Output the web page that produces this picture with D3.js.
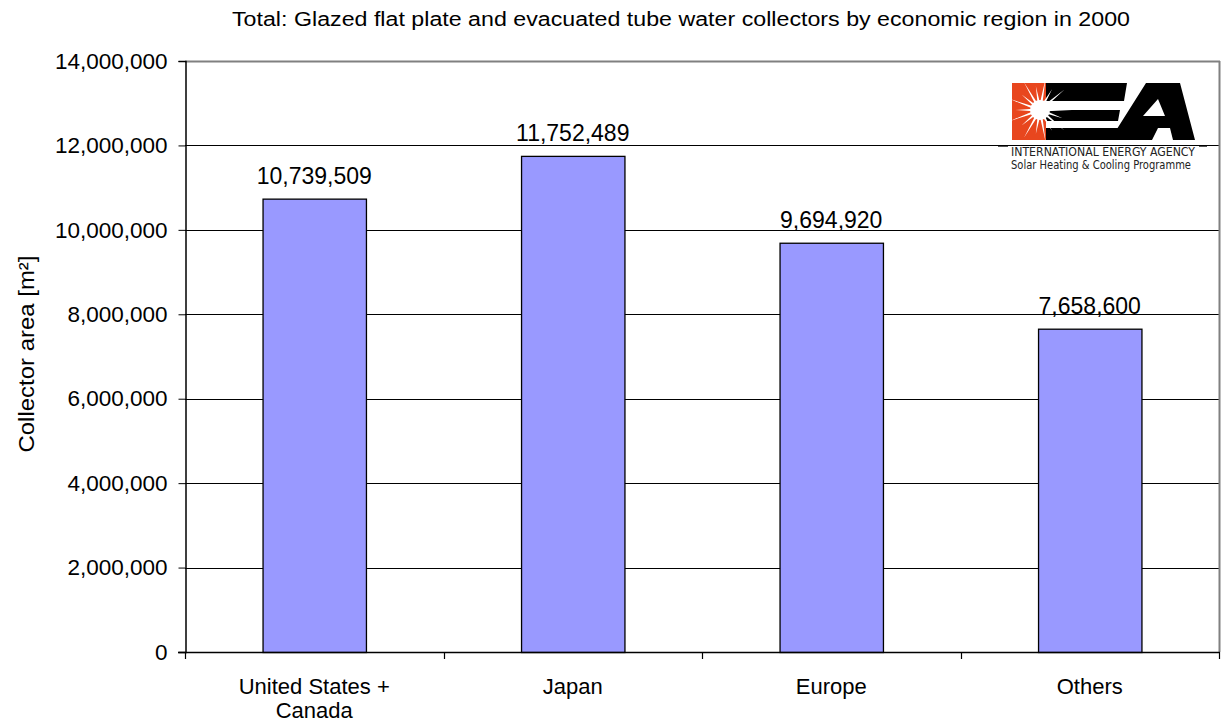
<!DOCTYPE html>
<html><head><meta charset="utf-8">
<script src="https://cdn.jsdelivr.net/npm/d3@7"></script>
<style>body{margin:0;background:#fff}svg{display:block;font-family:"Liberation Sans",Arial,sans-serif}</style>
</head><body><svg id="c" width="1221" height="727"></svg>
<script>
const categories = [["United States +","Canada"],["Japan"],["Europe"],["Others"]];
const values = [10739509, 11752489, 9694920, 7658600];
const yTicks = [0,2000000,4000000,6000000,8000000,10000000,12000000,14000000];
const title = "Total: Glazed flat plate and evacuated tube water collectors by economic region in 2000";
const yLabel = "Collector area [m²]";

const svg = d3.select("#c");
const L=185, R=1219, T=61, B=652;
const keys = categories.map(c=>c.join(" "));
const x = d3.scaleBand().domain(keys).range([L,R]).paddingInner(0.6).paddingOuter(0.3);
const xb = d3.scaleBand().domain(keys).range([L,R]);
const y = d3.scaleLinear().domain([0,14000000]).range([B,T]);
const fmt = d3.format(",");

// gridlines
svg.append("g").selectAll("line").data(yTicks.filter(d=>d>0&&d<14000000)).join("line")
  .attr("x1",L).attr("x2",R).attr("y1",d=>Math.round(y(d))+0.5).attr("y2",d=>Math.round(y(d))+0.5)
  .attr("stroke","#000").attr("stroke-width",1);
// plot border top/right gray
svg.append("line").attr("x1",L).attr("x2",R+1).attr("y1",T+0.5).attr("y2",T+0.5).attr("stroke","#808080").attr("stroke-width",2);
svg.append("line").attr("x1",R+0.5).attr("x2",R+0.5).attr("y1",T).attr("y2",B).attr("stroke","#808080").attr("stroke-width",2);

// bars
svg.append("g").selectAll("rect").data(values).join("rect")
  .attr("x",(d,i)=>x(keys[i])+0.5).attr("y",d=>y(d)+0.5)
  .attr("width",x.bandwidth()).attr("height",d=>B-y(d))
  .attr("fill","#9999ff").attr("stroke","#000").attr("stroke-width",1.3);

// value labels
svg.append("g").selectAll("text").data(values).join("text")
  .attr("x",(d,i)=>x(keys[i])+x.bandwidth()/2).attr("y",d=>y(d)-15)
  .attr("text-anchor","middle").attr("font-size",23).text(d=>fmt(d));

// y axis
const ya = svg.append("g").attr("transform",`translate(${L+0.5},0)`)
  .call(d3.axisLeft(y).tickValues(yTicks).tickFormat(fmt).tickSize(7).tickPadding(11));
ya.select(".domain").attr("stroke","#000").attr("stroke-width",1.5);
ya.selectAll(".tick line").attr("stroke","#000");
ya.selectAll("text").attr("font-size",22.5).attr("font-family","Liberation Sans, Arial, sans-serif").attr("fill","#000");

// x axis
svg.append("line").attr("x1",L-7).attr("x2",R+1).attr("y1",B+0.5).attr("y2",B+0.5).attr("stroke","#000").attr("stroke-width",1.5);
const bounds = keys.map(k=>xb(k)).concat([R]);
svg.append("g").selectAll("line").data(bounds).join("line")
  .attr("x1",d=>Math.round(d)+0.5).attr("x2",d=>Math.round(d)+0.5).attr("y1",B).attr("y2",B+7)
  .attr("stroke","#000").attr("stroke-width",1.2);
const xl = svg.append("g").selectAll("text").data(categories).join("text")
  .attr("x",(d,i)=>xb(keys[i])+xb.bandwidth()/2).attr("y",694)
  .attr("text-anchor","middle").attr("font-size",22);
xl.each(function(d){
  const t=d3.select(this);
  d.forEach((s,j)=>t.append("tspan").attr("x",t.attr("x")).attr("dy",j?24:0).text(s));
});

// title
svg.append("text").attr("x",681).attr("y",26).attr("text-anchor","middle").attr("font-size",20)
  .attr("textLength",898).attr("lengthAdjust","spacingAndGlyphs").text(title);
// y label
svg.append("text").attr("transform","translate(34,354) rotate(-90)").attr("text-anchor","middle").attr("font-size",22)
  .attr("textLength",197).attr("lengthAdjust","spacingAndGlyphs").text(yLabel);

// logo
const lg = svg.append("g");
lg.append("rect").attr("x",1012).attr("y",83).attr("width",34).attr("height",57).attr("fill","#e8461e");
// E (black part)
lg.append("path").attr("fill","#000").attr("d",
 "M1046,83 L1127,83 L1124,101 L1046,101 Z M1046,110 L1120,110 L1118,121 L1046,121 Z M1046,128 L1130,128 L1130,140 L1046,140 Z");
// A
lg.append("path").attr("fill","#000").attr("fill-rule","evenodd").attr("d",
 "M1110,140 L1146,83 L1180,83 L1195,140 L1173,140 L1170,128 L1158,128 L1152,140 Z M1143,116 L1158,99 L1165,116 Z");
// sunburst
const cx=1040, cy=110, n=18;
let pts=[];
for(let i=0;i<n*2;i++){const a=i*Math.PI/n; const r=i%2?7:(i%4?24:32); pts.push([cx+r*Math.cos(a), cy+r*Math.sin(a)]);}
lg.append("path").attr("d","M"+pts.map(p=>p.join(",")).join("L")+"Z").attr("fill","#fff");
lg.append("circle").attr("cx",cx).attr("cy",cy).attr("r",10).attr("fill","#fff");
lg.append("line").attr("x1",998).attr("x2",1008).attr("y1",146.5).attr("y2",146.5).attr("stroke","#555");
lg.append("line").attr("x1",1199).attr("x2",1207).attr("y1",146.5).attr("y2",146.5).attr("stroke","#555");
lg.append("text").attr("x",1103).attr("y",156).attr("text-anchor","middle").attr("font-size",12).attr("font-family","DejaVu Sans Condensed, DejaVu Sans, sans-serif").attr("textLength",184).attr("lengthAdjust","spacingAndGlyphs").attr("fill","#222").text("INTERNATIONAL ENERGY AGENCY");
lg.append("text").attr("x",1101).attr("y",169).attr("text-anchor","middle").attr("font-size",11.5).attr("font-family","DejaVu Sans Condensed, DejaVu Sans, sans-serif").attr("textLength",180).attr("lengthAdjust","spacingAndGlyphs").attr("fill","#222").text("Solar Heating & Cooling Programme");
</script></body></html>
